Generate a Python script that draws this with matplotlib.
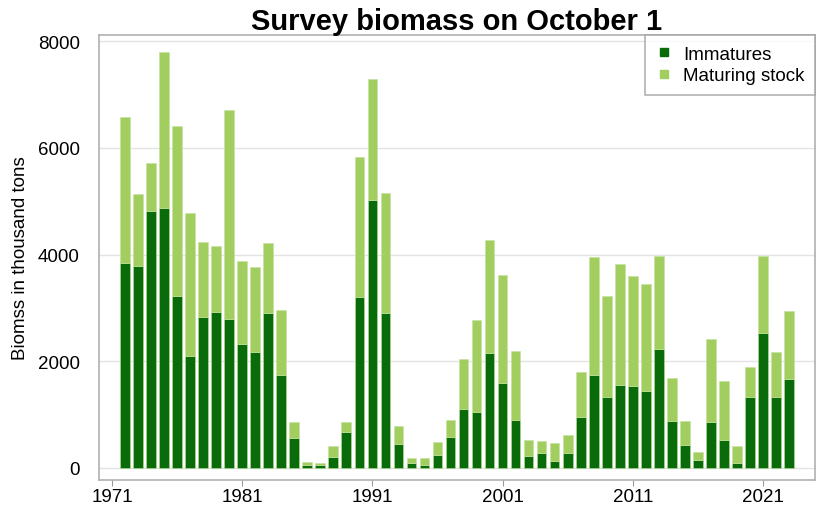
import numpy as np
import matplotlib
matplotlib.use('Agg')
import matplotlib.pyplot as plt
from matplotlib.lines import Line2D

plt.rcParams['font.family'] = ['Liberation Sans', 'DejaVu Sans']

# Survey biomass, thousand tons
years = list(range(1972, 2024))
immatures = [3850, 3780, 4810, 4870, 3215, 2105, 2835, 2915, 2790, 2322,
             2178, 2897, 1742, 562, 56, 60, 200, 680, 3196, 5025,
             2903, 449, 87, 56, 235, 587, 1105, 1043, 2155, 1593,
             906, 231, 278, 122, 278, 955, 1749, 1337, 1561, 1530,
             1437, 2230, 887, 434, 150, 868, 531, 94, 1336, 2523,
             1336, 1667]
total = [6586, 5144, 5725, 7803, 6410, 4788, 4242, 4164, 6704, 3882,
         3770, 4226, 2959, 855, 107, 87, 418, 855, 5830, 7285,
         5150, 793, 181, 181, 487, 902, 2042, 2773, 4271, 3621,
         2198, 528, 506, 468, 624, 1804, 3950, 3228, 3821, 3603,
         3447, 3977, 1686, 875, 300, 2416, 1630, 406, 1886, 3977,
         2175, 2947]
maturing = [t - i for t, i in zip(total, immatures)]

dark = '#0a6b0a'
light = '#a2cd5f'

fig, ax = plt.subplots(figsize=(8.19, 5.10), dpi=100)
fig.subplots_adjust(left=0.121, right=0.995, top=0.929, bottom=0.057)

ax.bar(years, immatures, width=0.75, color=dark, edgecolor='#b8e090', linewidth=0.4, zorder=3)
ax.bar(years, maturing, width=0.75, bottom=immatures, color=light, edgecolor='#c4e3a0', linewidth=0.4, zorder=3)

ax.set_xlim(1970, 2025)
ax.set_ylim(-225, 8112)
ax.set_xticks([1971, 1981, 1991, 2001, 2011, 2021])
ax.set_yticks([0, 2000, 4000, 6000, 8000])
ax.grid(axis='y', color='#e3e3e3', linewidth=1, zorder=0)
ax.tick_params(axis='y', length=0, pad=14, labelsize=13.5)
ax.tick_params(axis='x', length=4, color='#9a9a9a', labelsize=13.5, pad=2)
for s in ax.spines.values():
    s.set_color('#b0b0b0')
    s.set_linewidth(1.2)

ax.set_ylabel('Biomss in thousand tons', fontsize=13.5, labelpad=6)
ax.set_title('Survey biomass on October 1', fontsize=21, fontweight='bold', pad=4)

handles = [Line2D([], [], marker='s', linestyle='none', color=dark, markersize=6),
           Line2D([], [], marker='s', linestyle='none', color=light, markersize=6)]
leg = ax.legend(handles, ['Immatures', 'Maturing stock'], loc='upper right',
                fontsize=13.5, frameon=True, fancybox=False, borderaxespad=0,
                handletextpad=0.5, handlelength=1.0, borderpad=0.55,
                labelspacing=0.25)
leg.get_frame().set_edgecolor('#a0a0a0')
leg.get_frame().set_linewidth(1.2)

fig.savefig('out.png', dpi=100)
